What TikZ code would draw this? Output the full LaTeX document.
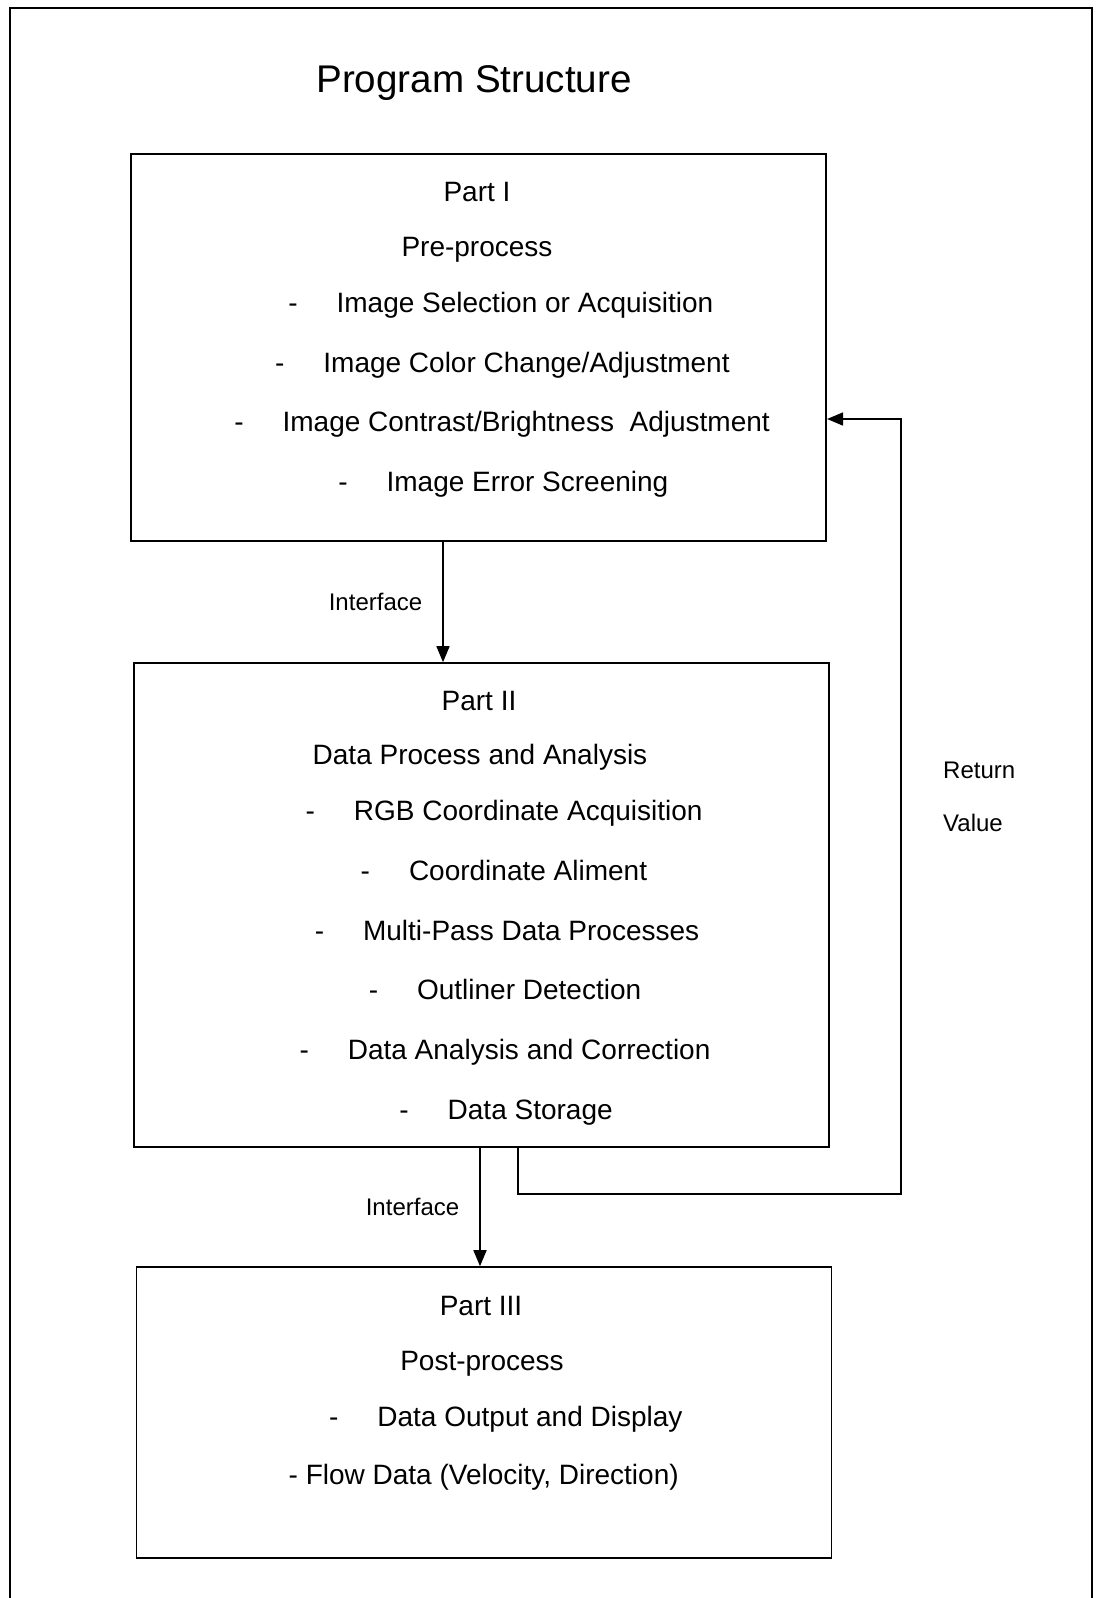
\documentclass[tikz,border=0pt]{standalone}
\usepackage{fontspec}
\setmainfont{Liberation Sans}
\usepackage{tikz}
\usetikzlibrary{positioning, arrows.meta, calc}
\tikzset{
  partbox/.style={rectangle, draw=black, line width=1.6pt, minimum width=695pt},
  heading/.style={anchor=base, inner sep=0pt, font=\fontsize{28pt}{34pt}\selectfont},
  entry/.style={anchor=base west, inner sep=0pt, font=\fontsize{28pt}{34pt}\selectfont},
  note/.style={inner sep=0pt, font=\fontsize{24pt}{29pt}\selectfont},
  arrow/.style={line width=1.6pt, -{Triangle[length=16pt, width=13pt]}},
  frame/.style={line width=1.6pt}
}
\newcommand{\itemdash}{-\hspace{39pt}}

\begin{document}
\begin{tikzpicture}[x=1pt, y=-1pt]
        \useasboundingbox (0,0) rectangle (1101,1598);
        % outer frame, open at the bottom
        \draw [frame] (10,1598) -- (10,8) -- (1092,8) -- (1092,1598);
        \node (title) [anchor=base, inner sep=0pt, font=\fontsize{38.6pt}{46pt}\selectfont] at (474,92) {Program Structure};

        \node (part1) [partbox, minimum height=387pt] at (478.75,347.5) {};
        \node (part2) [partbox, minimum height=484pt] at (481.25,905) {};
        \node (part3) [partbox, minimum height=291pt] at (483.8,1412.5) {};

        \node (head1) [heading] at (477,201) {Part I};
        \node (name1) [heading] at (477,256) {Pre-process};
        \node (sel) [entry] at (288.1,312) {\itemdash Image Selection or Acquisition};
        \node (color) [entry] at (274.9,372) {\itemdash Image Color Change/Adjustment};
        \node (contrast) [entry] at (234.1,431) {\itemdash Image Contrast/Brightness~ Adjustment};
        \node (screen) [entry] at (338.1,491) {\itemdash Image Error Screening};

        \node (head2) [heading] at (479,710) {Part II};
        \node (name2) [heading] at (480,764) {Data Process and Analysis};
        \node (rgb) [entry] at (305.4,820) {\itemdash RGB Coordinate Acquisition};
        \node (align) [entry] at (360.5,880) {\itemdash Coordinate Aliment};
        \node (multi) [entry] at (314.6,940) {\itemdash Multi-Pass Data Processes};
        \node (outl) [entry] at (368.6,999) {\itemdash Outliner Detection};
        \node (corr) [entry] at (299.3,1059) {\itemdash Data Analysis and Correction};
        \node (store) [entry] at (399.2,1119) {\itemdash Data Storage};

        \node (head3) [heading] at (481,1315) {Part III};
        \node (name3) [heading] at (482,1370) {Post-process};
        \node (disp) [entry] at (328.9,1426) {\itemdash Data Output and Display};
        \node (flow) [entry] at (288.5,1484) {- Flow Data (Velocity, Direction)};

        \node (retlbl) [note, anchor=base west] at (943,778) {Return};
        \node (vallbl) [note, anchor=base west] at (943,831) {Value};

        \coordinate (if1) at (443,0);
        \coordinate (if2) at (480,0);
        \coordinate (rs) at (518,0);
        \coordinate (ret) at (901,1194);
        \coordinate (rin) at (0,419);

        \draw [arrow] (part1.south -| if1) -- node[note, left=20pt] {Interface} (part2.north -| if1);
        \draw [arrow] (part2.south -| if2) -- node[note, left=20pt] {Interface} (part3.north -| if2);
        \draw [arrow] (part2.south -| rs) |- (ret) |- (part1.east |- rin);
    \end{tikzpicture}
\end{document}
